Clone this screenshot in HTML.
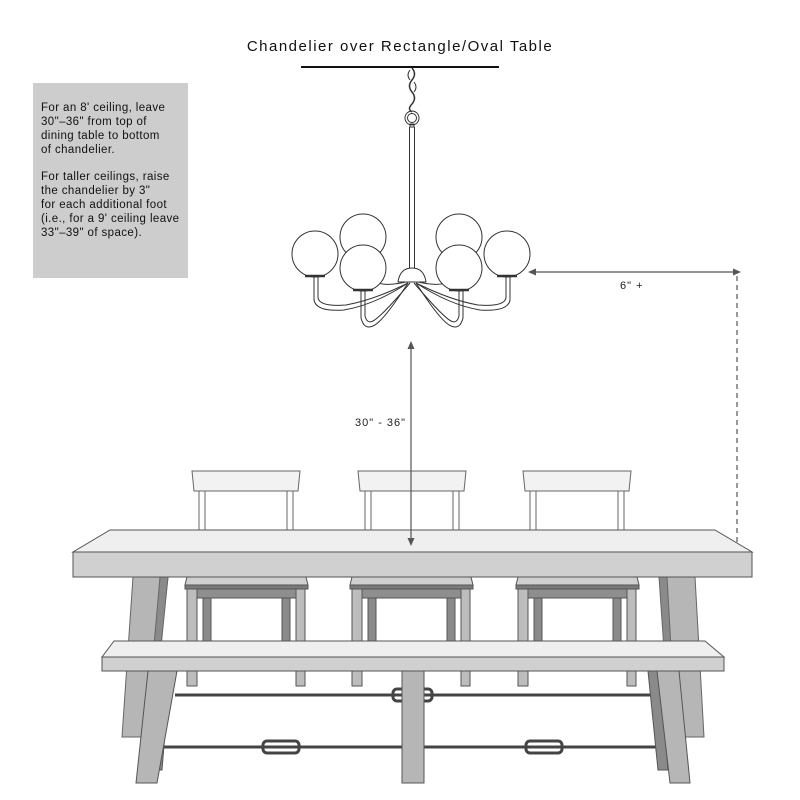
<!DOCTYPE html>
<html><head><style>body{margin:0;background:#fff}svg{display:block}</style></head><body>
<svg width="800" height="800" viewBox="0 0 800 800" xmlns="http://www.w3.org/2000/svg" font-family="Liberation Sans, sans-serif">
<rect width="800" height="800" fill="#fff"/>
<text x="400" y="51" font-size="15" text-anchor="middle" fill="#111" letter-spacing="1.5">Chandelier over Rectangle/Oval Table</text>
<line x1="301" y1="67" x2="499" y2="67" stroke="#111" stroke-width="2"/>
<rect x="33" y="83" width="155" height="195" fill="#cdcdcd"/>
<g font-size="11.5" fill="#111" letter-spacing="0.4">
<text x="41" y="111">For an 8' ceiling, leave</text>
<text x="41" y="125">30"–36" from top of</text>
<text x="41" y="139">dining table to bottom</text>
<text x="41" y="153">of chandelier.</text>
<text x="41" y="180">For taller ceilings, raise</text>
<text x="41" y="194">the chandelier by 3"</text>
<text x="41" y="208">for each additional foot</text>
<text x="41" y="222">(i.e., for a 9' ceiling leave</text>
<text x="41" y="236">33"–39" of space).</text>
</g>
<!-- chandelier -->
<g fill="none" stroke="#333" stroke-width="1">
<path d="M412 68 q5 6 0 12 q-5 6 0 12 q5 6 0 12 q-5 5 0 8" stroke-width="1.5"/>
<path d="M410 70 q-4 5 0 10 M414 82 q4 5 0 10"/>
<circle cx="412" cy="118" r="7"/><circle cx="412" cy="118" r="4.5"/>
<rect x="410" y="124" width="4" height="3"/>
<line x1="409.5" y1="127" x2="409.5" y2="270"/><line x1="414.5" y1="127" x2="414.5" y2="270"/>
<g stroke-width="1" fill="none">
<path d="M314 277 L314 300 q2 12 30 10 q30 -5 64 -27"/>
<path d="M318 277 L318 298 q2 9 28 7 q28 -5 62 -22"/>
<path d="M361 290 L361 318 q3 12 12 8 q10 -4 35 -43"/>
<path d="M365 290 L365 316 q2 8 8 5 q8 -4 37 -38"/>
<path d="M510 277 L510 300 q-2 12 -30 10 q-30 -5 -64 -27"/>
<path d="M506 277 L506 298 q-2 9 -28 7 q-28 -5 -62 -22"/>
<path d="M463 290 L463 318 q-3 12 -12 8 q-10 -4 -35 -43"/>
<path d="M459 290 L459 316 q-2 8 -8 5 q-8 -4 -37 -38"/>
<path d="M370 257 L370 275 q5 15 40 6"/><path d="M454 257 L454 275 q-5 15 -40 6"/>
</g>
<path d="M398 282 q2 -14 14 -14 q12 0 14 14 z" fill="#fff"/>
<g fill="#fff">
<circle cx="363" cy="237" r="23"/><circle cx="459" cy="237" r="23"/>
<circle cx="315" cy="254" r="23"/><circle cx="507" cy="254" r="23"/>
<circle cx="363" cy="268" r="23"/><circle cx="459" cy="268" r="23"/>
</g>
<g stroke-width="2.5"><path d="M305 276 h20 M353 290 h20 M449 290 h20 M497 276 h20"/></g>
</g>
<text x="355" y="426" font-size="11" fill="#222" letter-spacing="1">30" - 36"</text>
<text x="620" y="289" font-size="11" fill="#222" letter-spacing="1">6" +</text>
<!-- chairs backs -->
<g stroke="#666" stroke-width="1" fill="#f2f2f2">
<g id="cb">
<path d="M192 471 H300 L298 491 H194 Z"/>
<rect x="199" y="491" width="6" height="40" fill="#fff"/>
<rect x="287" y="491" width="6" height="40" fill="#fff"/>
</g>
<use href="#cb" x="166"/><use href="#cb" x="331"/>
</g>
<!-- table legs behind -->
<g stroke="#666" stroke-width="1">
<path d="M133 577 H168 L150 737 H122 Z" fill="#b6b6b6"/>
<path d="M160 577 H168 L152 737 H146 Z" fill="#8a8a8a"/>
<path d="M659 577 H695 L704 737 H682 Z" fill="#b6b6b6"/>
<path d="M659 577 H667 L676 737 H670 Z" fill="#8a8a8a"/>
</g>
<!-- chair seats -->
<g stroke="#555" stroke-width="1">
<g id="cs">
<rect x="203" y="596" width="8" height="48" fill="#8a8a8a"/>
<rect x="282" y="596" width="8" height="48" fill="#8a8a8a"/>
<rect x="197" y="588" width="99" height="10" fill="#8e8e8e"/>
<path d="M187 577 H306 L308 585 H185 Z" fill="#d0d0d0"/>
<rect x="185" y="585" width="123" height="4" fill="#7a7a7a"/>
<rect x="187" y="589" width="10" height="97" fill="#bdbdbd"/>
<rect x="296" y="589" width="9" height="97" fill="#bdbdbd"/>
</g>
<use href="#cs" x="165"/><use href="#cs" x="331"/>
</g>
<!-- table top -->
<g stroke="#555" stroke-width="1">
<path d="M110 530 H715 L752 552 H73 Z" fill="#efefef"/>
<rect x="73" y="552" width="679" height="25" fill="#d0d0d0"/>
</g>
<!-- dimension lines -->
<g stroke="#555" fill="#555">
<line x1="411" y1="346" x2="411" y2="541" stroke-width="1.2"/>
<path d="M407.5 349 L411 341 L414.5 349 z M407.5 538 L411 546 L414.5 538 z" stroke="none"/>
<line x1="532" y1="272" x2="737" y2="272" stroke-width="1.2"/>
<path d="M536 268.5 L528 272 L536 275.5 z M733 268.5 L741 272 L733 275.5 z" stroke="none"/>
<line x1="737" y1="276" x2="737" y2="545" stroke-dasharray="5,4" stroke-width="1.2"/>
</g>
<!-- rods -->
<g stroke="#444" fill="none">
<line x1="175" y1="695" x2="650" y2="695" stroke-width="3"/>
<line x1="159" y1="747" x2="666" y2="747" stroke-width="3"/>
<rect x="393" y="689" width="39" height="12" rx="4" stroke-width="3"/>
<rect x="263" y="741" width="36" height="12" rx="4" stroke-width="3"/>
<rect x="526" y="741" width="36" height="12" rx="4" stroke-width="3"/>
</g>
<!-- bench -->
<g stroke="#555" stroke-width="1">
<path d="M158 671 H170 L162 770 H152 Z" fill="#8a8a8a"/>
<path d="M648 671 H660 L668 770 H658 Z" fill="#8a8a8a"/>
<path d="M148 671 H177 L157 783 H136 Z" fill="#b6b6b6"/>
<path d="M657 671 H679 L690 783 H670 Z" fill="#b6b6b6"/>
<rect x="402" y="671" width="22" height="112" fill="#b6b6b6"/>
<path d="M114 641 H705 L724 657 H102 Z" fill="#efefef"/>
<rect x="102" y="657" width="622" height="14" fill="#d0d0d0"/>
</g>
</svg>
</body></html>
